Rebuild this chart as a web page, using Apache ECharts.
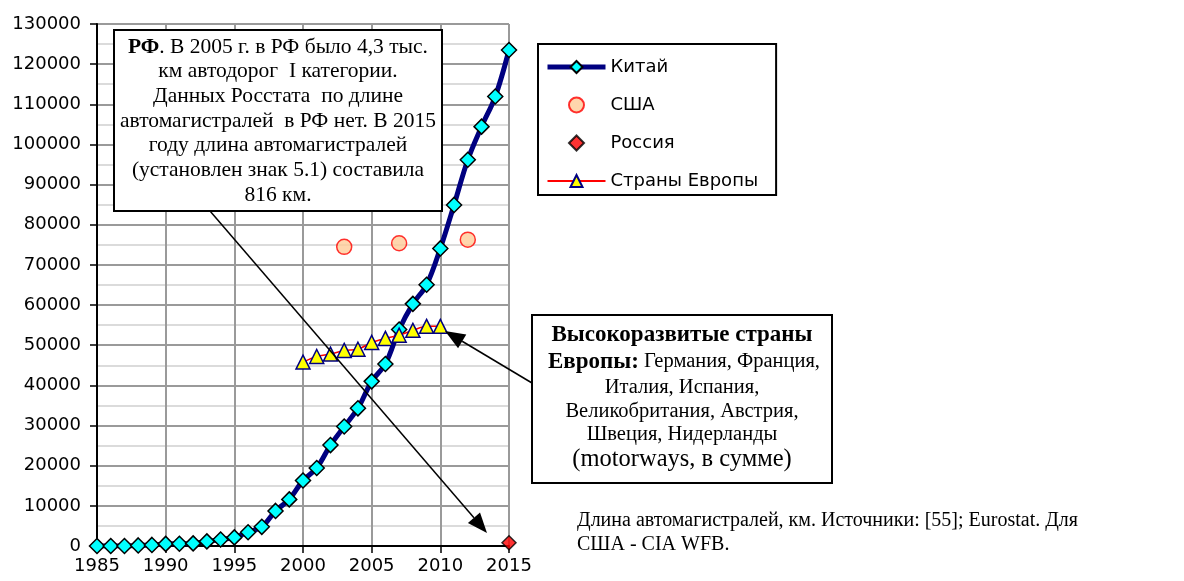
<!DOCTYPE html>
<html lang="ru">
  <head>
    <meta charset="UTF-8" />
    <title>Длина автомагистралей</title>
    <script src="https://cdn.jsdelivr.net/npm/echarts@6/dist/echarts.min.js"></script>
    <style>
      body { margin: 0; background: #fff; }
      #main { width: 1184px; height: 581px; }
    </style>
  </head>
  <body>
    <div id="main"></div>
    <script>
      // данные
      const chinaYears = [1985, 1986, 1987, 1988, 1989, 1990, 1991, 1992, 1993, 1994, 1995, 1996, 1997, 1998, 1999, 2000,
        2001, 2002, 2003, 2004, 2005, 2006, 2007, 2008, 2009, 2010, 2011, 2012, 2013, 2014, 2015];
      const chinaKm = [0, 0, 0, 147, 271, 522, 574, 652, 1145, 1603, 2141, 3422, 4771, 8733, 11605, 16314,
        19437, 25130, 29745, 34288, 41005, 45339, 53913, 60302, 65055, 74113, 84946, 96200, 104438, 111936, 123523];
      const usaYears = [2003, 2007, 2012];
      const usaKm = [74500, 75400, 76300];
      const russiaYears = [2015];
      const russiaKm = [816];
      const euroYears = [2000, 2001, 2002, 2003, 2004, 2005, 2006, 2007, 2008, 2009, 2010];
      const euroKm = [45800, 47200, 47800, 48700, 49000, 50700, 51700, 52500, 53700, 54700, 54700];
      const seriesNames = ["Китай", "США", "Россия", "Страны Европы"];

      const pairs = (xs, ys) => xs.map((x, i) => [x, ys[i]]);

      const sans = "DejaVu Sans";
      const serif = "Liberation Serif";

      // стрелка: линия + треугольный наконечник
      function arrow(x1, y1, x2, y2) {
        const a = Math.atan2(y2 - y1, x2 - x1);
        const len = 20, w = 8;
        const bx = x2 - len * Math.cos(a), by = y2 - len * Math.sin(a);
        const px = -Math.sin(a) * w, py = Math.cos(a) * w;
        return [
          { type: "line", z: 100, shape: { x1: x1, y1: y1, x2: bx, y2: by }, style: { stroke: "#000", lineWidth: 1.5 } },
          { type: "polygon", z: 100, shape: { points: [[x2, y2], [bx + px, by + py], [bx - px, by - py]] }, style: { fill: "#000" } }
        ];
      }

      function textLine(x, y, text, size, rich) {
        return {
          type: "text", z: 101, x: x, y: y,
          style: {
            text: text, font: size + "px '" + serif + "'", fill: "#000",
            align: "center", verticalAlign: "middle", rich: rich || {}
          }
        };
      }

      const box1Lines = [
        "{b|РФ}. В 2005 г. в РФ было 4,3 тыс.",
        "км автодорог  I категории.",
        "Данных Росстата  по длине",
        "автомагистралей  в РФ нет. В 2015",
        "году длина автомагистралей",
        "(установлен знак 5.1) составила",
        "816 км."
      ];
      const boldRich = { b: { fontWeight: "bold", fontFamily: serif, fontSize: 21.5 } };

      const graphics = [];
      graphics.push({ type: "rect", z: 99, shape: { x: 114, y: 30, width: 328, height: 181 },
        style: { fill: "#fff", stroke: "#000", lineWidth: 2 } });
      box1Lines.forEach((t, i) => graphics.push(textLine(278, 47 + i * 24.7, t, 21.5, boldRich)));
      graphics.push(...arrow(210, 211, 487, 533));

      graphics.push({ type: "rect", z: 99, shape: { x: 532, y: 315, width: 300, height: 168 },
        style: { fill: "#fff", stroke: "#000", lineWidth: 2 } });
      const boldRich2 = { b: { fontWeight: "bold", fontFamily: serif, fontSize: 23 } };
      graphics.push(textLine(682, 335, "{b|Высокоразвитые страны}", 23, boldRich2));
      graphics.push(textLine(684, 362, "{b|Европы:} Германия, Франция,", 20.5, boldRich2));
      graphics.push(textLine(682, 388, "Италия, Испания,", 20.5));
      graphics.push(textLine(682, 412, "Великобритания, Австрия,", 20.5));
      graphics.push(textLine(682, 435, "Швеция, Нидерланды", 20.5));
      graphics.push(textLine(682, 460, "(motorways, в сумме)", 24.5));
      graphics.push(...arrow(532, 383, 445, 331));

      graphics.push({ type: "text", z: 101, x: 577, y: 521,
        style: { text: "Длина автомагистралей, км. Источники: [55]; Eurostat. Для", font: "20px '" + serif + "'",
          fill: "#000", align: "left", verticalAlign: "middle" } });
      graphics.push({ type: "text", z: 101, x: 577, y: 545,
        style: { text: "США - CIA WFB.", font: "20px '" + serif + "'",
          fill: "#000", align: "left", verticalAlign: "middle" } });

      const chart = echarts.init(document.getElementById("main"), null, { renderer: "canvas" });
      chart.setOption({
        animation: false,
        backgroundColor: "#fff",
        textStyle: { fontFamily: sans },
        grid: { left: 97, right: 675, top: 24, bottom: 35 },
        legend: {
          data: [
            { name: seriesNames[0], lineStyle: { width: 5, color: "#000080" } },
            { name: seriesNames[1] },
            { name: seriesNames[2], icon: "path://M0,5L5,0L10,5L5,10Z" },
            { name: seriesNames[3] }
          ],
          orient: "vertical",
          left: 538, top: 44,
          padding: [14, 18, 5, 7],
          itemWidth: 58, itemHeight: 15, itemGap: 20,
          symbolKeepAspect: true,
          borderColor: "#000", borderWidth: 2,
          backgroundColor: "#fff",
          textStyle: { fontFamily: sans, fontSize: 18, color: "#000" }
        },
        xAxis: {
          type: "value", min: 1985, max: 2015, interval: 5,
          axisLine: { lineStyle: { color: "#000", width: 2 } },
          axisTick: { show: true, length: 7, lineStyle: { color: "#000", width: 1.5 } },
          axisLabel: { color: "#000", fontSize: 18, fontFamily: sans, margin: 11, formatter: (v) => String(v) },
          splitLine: { show: true, lineStyle: { color: "#9a9a9a", width: 2 } }
        },
        yAxis: {
          type: "value", min: 0, max: 130000, interval: 10000,
          axisLine: { show: true, lineStyle: { color: "#000", width: 2 } },
          axisTick: { show: true, length: 7, lineStyle: { color: "#000", width: 1.5 } },
          axisLabel: { color: "#000", fontSize: 18, fontFamily: sans, margin: 16, formatter: (v) => String(v) },
          splitLine: { show: true, lineStyle: { color: "#9a9a9a", width: 2 } },
          minorTick: { show: false, splitNumber: 2 },
          minorSplitLine: { show: true, lineStyle: { color: "#cfcfcf", width: 1.5 } }
        },
        series: [
          {
            name: seriesNames[0], type: "line", smooth: 0.35,
            data: pairs(chinaYears, chinaKm),
            symbol: "diamond", symbolSize: 15,
            itemStyle: { color: "#00ffff", borderColor: "#000", borderWidth: 1.5 },
            lineStyle: { color: "#000080", width: 5 },
            z: 3
          },
          {
            name: seriesNames[1], type: "scatter",
            data: pairs(usaYears, usaKm),
            symbol: "circle", symbolSize: 15, symbolKeepAspect: true,
            itemStyle: { color: "#ffcc99", borderColor: "#ff0000", borderWidth: 1.5 },
            z: 3
          },
          {
            name: seriesNames[2], type: "scatter",
            data: pairs(russiaYears, russiaKm),
            symbol: "diamond", symbolSize: 14, symbolKeepAspect: true,
            itemStyle: { color: "#ff0000", borderColor: "#000", borderWidth: 1.5 },
            z: 3
          },
          {
            name: seriesNames[3], type: "line", smooth: 0.3,
            data: pairs(euroYears, euroKm),
            symbol: "triangle", symbolSize: 14,
            itemStyle: { color: "#ffff00", borderColor: "#000080", borderWidth: 1.5 },
            lineStyle: { color: "#ff0000", width: 1.5 },
            z: 4
          }
        ],
        graphic: graphics
      });
    </script>
  </body>
</html>
